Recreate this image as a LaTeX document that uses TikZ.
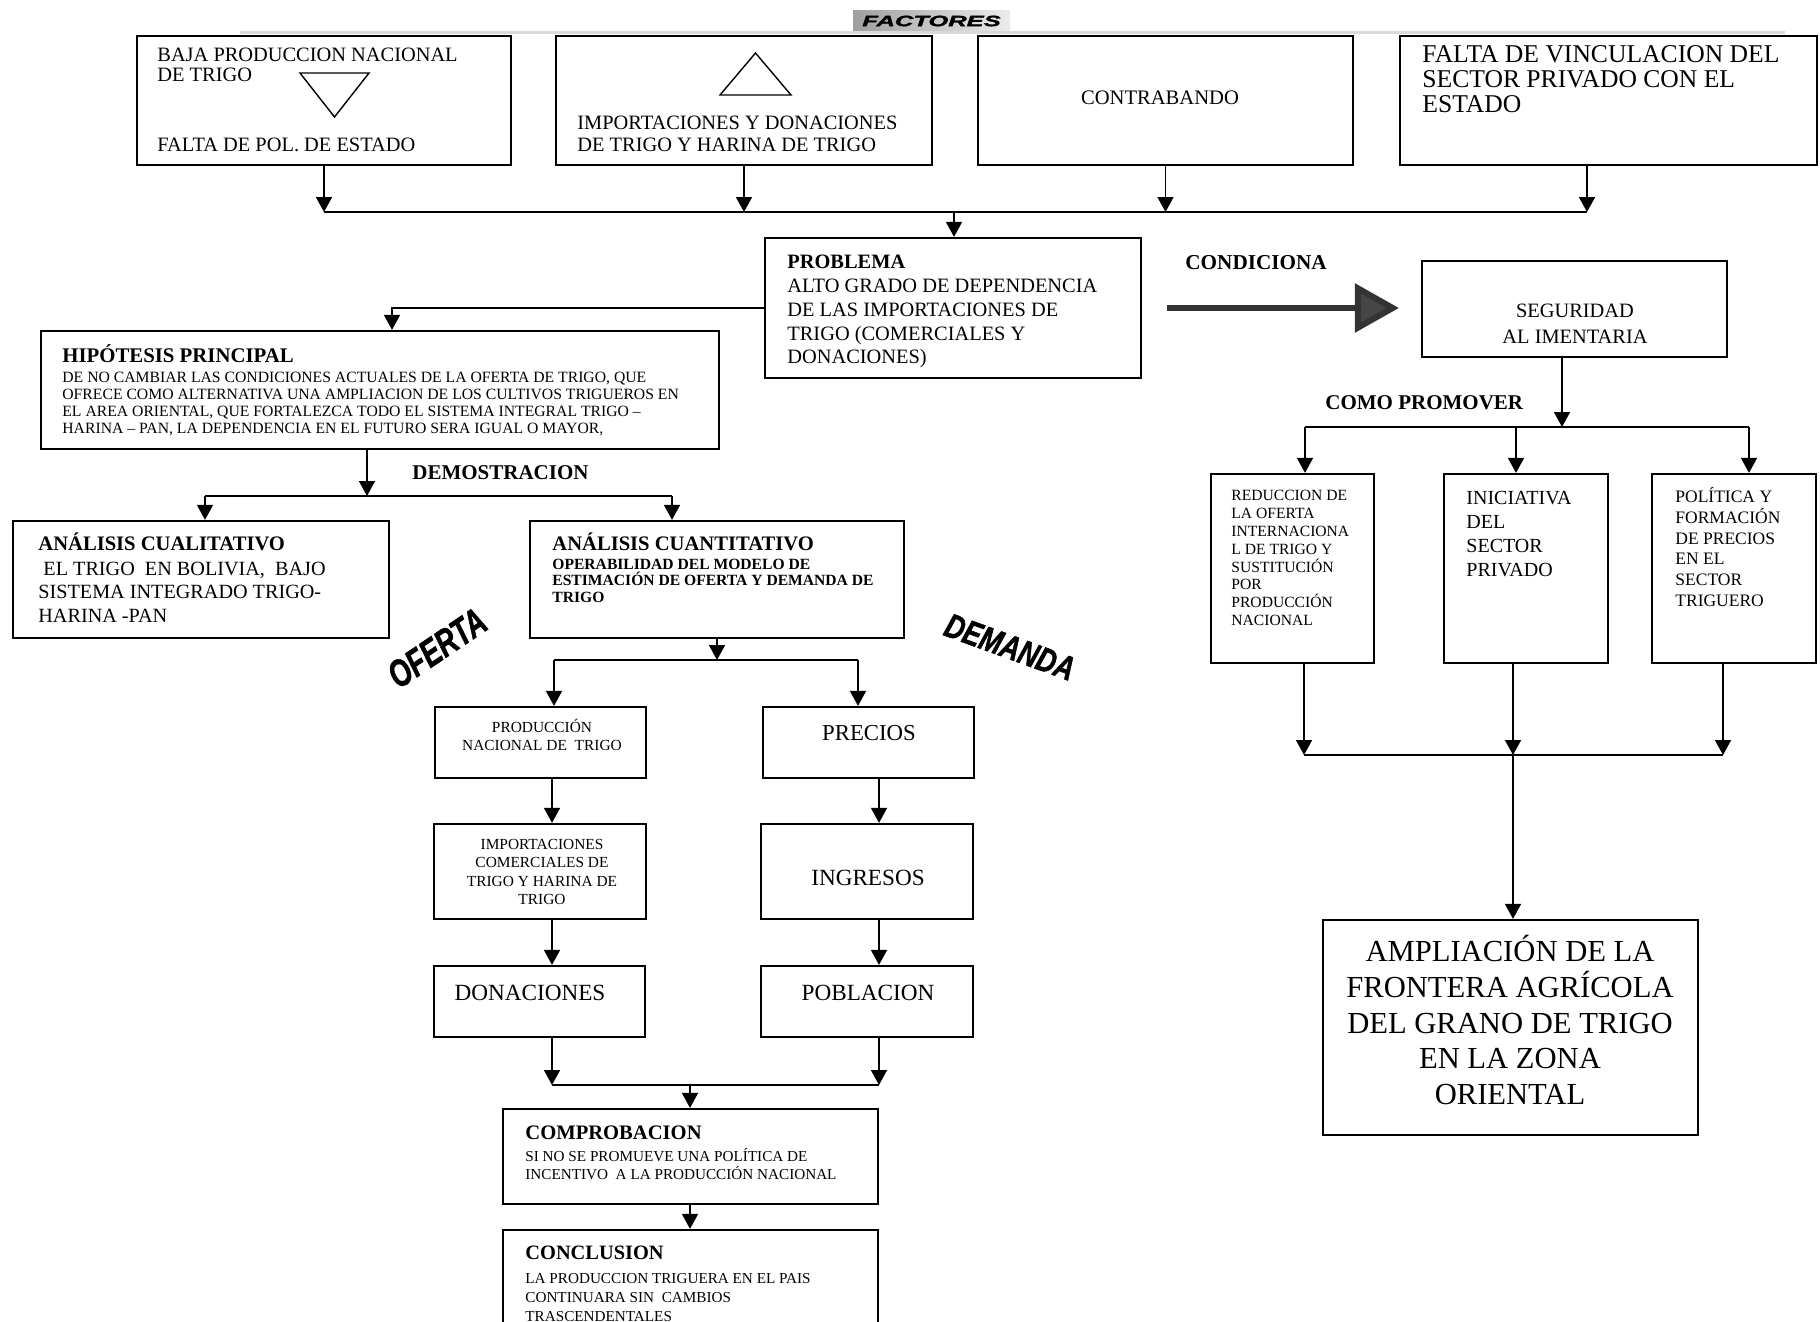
\documentclass[tikz,border=0pt]{standalone}
\usepackage{fontspec}
\setmainfont{Liberation Serif}
\setsansfont{Liberation Sans}
\newfontfamily\wordfont{Liberation Sans}[FakeBold=1.5]
\usetikzlibrary{arrows.meta,fit,calc}
\newcommand{\fsz}[2]{\fontsize{#1pt}{#2pt}\selectfont}
\newcommand{\mystrut}{\rule{0pt}{1em}}
\begin{document}
\begin{tikzpicture}[x=0.5pt,y=-0.5pt,
  box/.style={draw, line width=1.1pt, inner sep=0pt},
  txt/.style={inner sep=0pt, anchor=north west, align=left},
  ctxt/.style={inner sep=0pt, anchor=north, align=center},
  conn/.style={line width=0.8pt},
  arr/.style={conn, -{Triangle[width=8pt,length=7.5pt]}},
  bigarr/.style={line width=3pt, draw=gray!40!black, -{Triangle[width=24pt,length=22pt,fill=gray!55!black]}},
  word/.style={inner sep=0pt, font=\wordfont\bfseries\itshape}
]
\useasboundingbox (0,0) rectangle (1820,1322);
\clip (0,0) rectangle (1820,1322);
\fill[white] (0,0) rectangle (1820,1322);

% banner
\draw[gray!30, line width=1.5pt] (240,33) -- (1785,33);
\node[fit={(853,11) (1010,31)}, inner sep=0pt, left color=gray!75, right color=gray!15] (fac) {};
\node[word] (facT) at (fac.center) {\scalebox{1.7}[1]{\fsz{7.5}{7.5}FACTORES}};

% boxes
\node[box, fit={(137,36) (511,165)}] (b1) {};
\node[box, fit={(556,36) (932,165)}] (b2) {};
\node[box, fit={(978,36) (1353,165)}] (b3) {};
\node[box, fit={(1400,36) (1817,165)}] (b4) {};
\node[box, fit={(765,238) (1141,378)}] (prob) {};
\node[box, fit={(1422,261) (1727,357)}] (seg) {};
\node[box, fit={(41,331) (719,449)}] (hip) {};
\node[box, fit={(13,521) (389,638)}] (cual) {};
\node[box, fit={(530,521) (904,638)}] (cuant) {};
\node[box, fit={(435,707) (646,778)}] (prod) {};
\node[box, fit={(434,824) (646,919)}] (imp) {};
\node[box, fit={(434,966) (645,1037)}] (don) {};
\node[box, fit={(763,707) (974,778)}] (prec) {};
\node[box, fit={(761,824) (973,919)}] (ing) {};
\node[box, fit={(761,966) (973,1037)}] (pob) {};
\node[box, fit={(503,1109) (878,1204)}] (comp) {};
\node[box, fit={(503,1230) (878,1360)}] (conc) {};
\node[box, fit={(1211,474) (1374,663)}] (r1) {};
\node[box, fit={(1444,474) (1608,663)}] (r2) {};
\node[box, fit={(1652,474) (1816,663)}] (r3) {};
\node[box, fit={(1323,920) (1698,1135)}] (amp) {};

% triangles in top boxes
\draw[line width=0.7pt] (300,73) -- (369,73) -- (334.5,117) -- cycle;
\draw[line width=0.7pt] (720,95) -- (791,95) -- (755.5,53) -- cycle;

% texts
\node[txt, font=\fsz{10.2}{10}] (t1a) at (157,40.6) {\mystrut BAJA PRODUCCION NACIONAL\\DE TRIGO};
\node[txt, font=\fsz{10.2}{10}] (t1b) at (157,130.6) {\mystrut FALTA DE POL. DE ESTADO};
\node[txt, font=\fsz{10.2}{11}] (t2) at (577,108.6) {\mystrut IMPORTACIONES Y DONACIONES\\DE TRIGO Y HARINA DE TRIGO};
\node[ctxt, font=\fsz{10.3}{11}] (t3) at (1160,83.4) {\mystrut CONTRABANDO};
\node[txt, font=\fsz{12.8}{12.5}] (t4) at (1422,36.4) {\mystrut FALTA DE VINCULACION DEL\\SECTOR PRIVADO CON EL\\ESTADO};

\node[txt, font=\fsz{10.2}{11}\bfseries] (tprobT) at (787,247.6) {\mystrut PROBLEMA};
\node[txt, font=\fsz{10.2}{11.9}] (tprobB) at (787,271.6) {\mystrut ALTO GRADO DE DEPENDENCIA\\DE LAS IMPORTACIONES DE\\TRIGO (COMERCIALES Y\\DONACIONES)};
\node[txt, font=\fsz{10.6}{11}\bfseries] (tcond) at (1185,247.8) {\mystrut CONDICIONA};
\node[ctxt, font=\fsz{10.2}{13}] (tseg) at (1575,296.6) {\mystrut SEGURIDAD\\AL IMENTARIA};
\node[txt, font=\fsz{10.5}{11}\bfseries] (tcomo) at (1325,388) {\mystrut COMO PROMOVER};

\node[txt, font=\fsz{7.8}{8.95}] (tr1) at (1231,484.4) {\mystrut REDUCCION DE\\LA OFERTA\\INTERNACIONA\\L DE TRIGO Y\\SUSTITUCIÓN\\POR\\PRODUCCIÓN\\NACIONAL};
\node[txt, font=\fsz{10}{12}] (tr2) at (1466,484) {\mystrut INICIATIVA\\DEL\\SECTOR\\PRIVADO};
\node[txt, font=\fsz{8.75}{10.4}] (tr3) at (1675,484.5) {\mystrut POLÍTICA Y\\FORMACIÓN\\DE PRECIOS\\EN EL\\SECTOR\\TRIGUERO};
\node[ctxt, font=\fsz{15.3}{17.9}] (tamp) at (1510,930.4) {\mystrut AMPLIACIÓN DE LA\\FRONTERA AGRÍCOLA\\DEL GRANO DE TRIGO\\EN LA ZONA\\ORIENTAL};

\node[txt, font=\fsz{10.4}{11}\bfseries] (thipT) at (62,341.2) {\mystrut HIPÓTESIS PRINCIPAL};
\node[txt, font=\fsz{7.85}{8.5}] (thipB) at (62,366.3) {\mystrut DE NO CAMBIAR LAS CONDICIONES ACTUALES DE LA OFERTA DE TRIGO, QUE\\OFRECE COMO ALTERNATIVA UNA AMPLIACION DE LOS CULTIVOS TRIGUEROS EN\\EL AREA ORIENTAL, QUE FORTALEZCA TODO EL SISTEMA INTEGRAL TRIGO –\\HARINA – PAN, LA DEPENDENCIA EN EL FUTURO SERA IGUAL O MAYOR,};
\node[txt, font=\fsz{10.5}{11}\bfseries] (tdem) at (412,458) {\mystrut DEMOSTRACION};

\node[txt, font=\fsz{10.3}{11}\bfseries] (tcualT) at (38,529.4) {\mystrut ANÁLISIS CUALITATIVO};
\node[txt, font=\fsz{10.1}{11.75}] (tcualB) at (38,554.8) {\mystrut\ EL TRIGO\ \ EN BOLIVIA,\ \ BAJO\\SISTEMA INTEGRADO TRIGO-\\HARINA -PAN};
\node[txt, font=\fsz{10.3}{11}\bfseries] (tcuantT) at (552,529.4) {\mystrut ANÁLISIS CUANTITATIVO};
\node[txt, font=\fsz{7.8}{8.25}\bfseries] (tcuantB) at (552,553.4) {\mystrut OPERABILIDAD DEL MODELO DE\\ESTIMACIÓN DE OFERTA Y DEMANDA DE\\TRIGO};

\node[word, rotate=34] (ofe) at (437,648) {\scalebox{0.72}[1]{\fsz{19}{19}OFERTA}};
\node[word, rotate=-20] (dem) at (1010,647) {\scalebox{0.78}[1]{\fsz{17}{17}DEMANDA}};

\node[ctxt, font=\fsz{7.7}{9}] (tprod) at (542,716.6) {\mystrut PRODUCCIÓN\\NACIONAL DE\ \ TRIGO};
\node[ctxt, font=\fsz{7.7}{9.2}] (timp) at (542,833.6) {\mystrut IMPORTACIONES\\COMERCIALES DE\\TRIGO Y HARINA DE\\TRIGO};
\node[ctxt, font=\fsz{11.6}{12}] (tdon) at (530,976.8) {\mystrut DONACIONES};
\node[ctxt, font=\fsz{11.4}{12}] (tprec) at (869,717.2) {\mystrut PRECIOS};
\node[ctxt, font=\fsz{11.6}{12}] (ting) at (868,861.8) {\mystrut INGRESOS};
\node[ctxt, font=\fsz{11.6}{12}] (tpob) at (868,976.8) {\mystrut POBLACION};

\node[txt, font=\fsz{10.3}{11}\bfseries] (tcompT) at (525,1118.4) {\mystrut COMPROBACION};
\node[txt, font=\fsz{7.6}{9}] (tcompB) at (525,1145.8) {\mystrut SI NO SE PROMUEVE UNA POLÍTICA DE\\INCENTIVO\ \ A LA PRODUCCIÓN NACIONAL};
\node[txt, font=\fsz{10.2}{11}\bfseries] (tconcT) at (525,1238.6) {\mystrut CONCLUSION};
\node[txt, font=\fsz{7.6}{9.5}] (tconcB) at (525,1267.8) {\mystrut LA PRODUCCION TRIGUERA EN EL PAIS\\CONTINUARA SIN\ \ CAMBIOS\\TRASCENDENTALES};

% connectors: top merge
\coordinate (hA) at (954,212);
\coordinate (hA4) at (1587,212);
\draw[conn] (b1.south |- hA) -- (hA4);
\draw[arr] (b1.south) -- (b1.south |- hA);
\draw[arr] (b2.south) -- (b2.south |- hA);
\draw[arr] (b3.south) -- (b3.south |- hA);
\draw[arr] (b4.south -| hA4) -- (hA4);
\draw[arr] (hA) -- (hA |- prob.north);

% to hypothesis
\coordinate (hB) at (392,308);
\draw[arr] (prob.west) -- (hB) -- (hB |- hip.north);

% condiciona
\draw[bigarr] ([xshift=12.5pt]prob.east) -- ([xshift=-11pt]seg.west |- prob.east);

% demostracion
\coordinate (hC) at (367,496);
\coordinate (hC1) at (205,496);
\coordinate (hC2) at (672,496);
\draw[arr] (hip.south -| hC) -- (hC);
\draw[conn] (hC1) -- (hC2);
\draw[arr] (hC1) -- (hC1 |- cual.north);
\draw[arr] (hC2) -- (hC2 |- cuant.north);

% oferta / demanda
\coordinate (hD) at (717,660);
\coordinate (hD1) at (554,660);
\coordinate (hD2) at (858,660);
\draw[arr] (cuant.south) -- (hD);
\draw[conn] (hD1) -- (hD2);
\draw[arr] (hD1) -- (hD1 |- prod.north);
\draw[arr] (hD2) -- (hD2 |- prec.north);

\coordinate (cL) at (552,0);
\coordinate (cR) at (879,0);
\draw[arr] (prod.south -| cL) -- (imp.north -| cL);
\draw[arr] (imp.south -| cL) -- (don.north -| cL);
\draw[arr] (prec.south -| cR) -- (ing.north -| cR);
\draw[arr] (ing.south -| cR) -- (pob.north -| cR);

\coordinate (hE1) at (552,1085);
\coordinate (hE2) at (879,1085);
\coordinate (hE) at (690,1085);
\draw[arr] (don.south -| hE1) -- (hE1);
\draw[arr] (pob.south -| hE2) -- (hE2);
\draw[conn] (hE1) -- (hE2);
\draw[arr] (hE) -- (hE |- comp.north);
\draw[arr] (comp.south -| hE) -- (conc.north -| hE);

% right side
\coordinate (hF) at (1562,427);
\coordinate (hF1) at (1305,427);
\coordinate (hF2) at (1516,427);
\coordinate (hF3) at (1749,427);
\draw[arr] (seg.south -| hF) -- (hF);
\draw[conn] (hF1) -- (hF3);
\draw[arr] (hF1) -- (hF1 |- r1.north);
\draw[arr] (hF2) -- (hF2 |- r2.north);
\draw[arr] (hF3) -- (hF3 |- r3.north);

\coordinate (hG1) at (1304,755);
\coordinate (hG2) at (1513,755);
\coordinate (hG3) at (1723,755);
\draw[arr] (r1.south -| hG1) -- (hG1);
\draw[arr] (r2.south -| hG2) -- (hG2);
\draw[arr] (r3.south -| hG3) -- (hG3);
\draw[conn] (hG1) -- (hG3);
\draw[arr] (hG2) -- (hG2 |- amp.north);
\end{tikzpicture}
\end{document}
